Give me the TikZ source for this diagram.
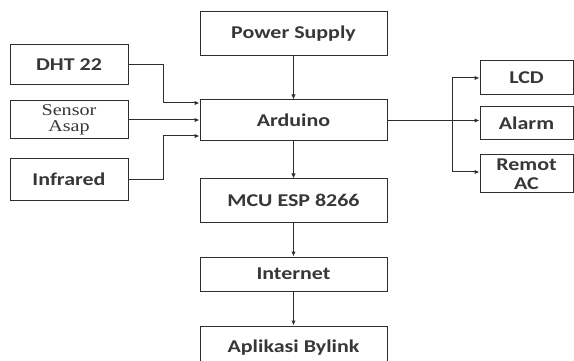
\documentclass[tikz,border=0pt]{standalone}
\usepackage{fontspec}
\usepackage{tikz}
\usepackage{xcolor}
\usetikzlibrary{arrows.meta,positioning,calc}
\setmainfont{Carlito}[FakeStretch=1.22]
\newfontfamily\sensorfont{Liberation Serif}[FakeStretch=1.22]
\definecolor{blkLine}{RGB}{45,45,45}
\definecolor{blkText}{RGB}{55,55,55}

\begin{document}
\begin{tikzpicture}[
    x=1pt,y=1pt,
    node distance=40pt,
    blok/.style={draw=blkLine,line width=1pt,inner sep=0pt,align=center,text=blkText,
      font=\fontsize{18}{18.5}\selectfont\bfseries},
    midblok/.style={blok,minimum width=187pt},
    leftblok/.style={blok,minimum width=118pt},
    rightblok/.style={blok,minimum width=93pt},
    arrow/.style={-{Latex[length=5pt,width=4.5pt]},line width=1pt,blkLine}
  ]
    \useasboundingbox (0,0) rectangle (574,-361);
    % tengah
    \node[midblok,minimum height=44pt] (pwr) at (293.5,-34) {Power Supply};
    \node[midblok,minimum height=41pt,below=43pt of pwr] (ard) {Arduino};
    \node[midblok,minimum height=43pt,below=37pt of ard] (mcu) {MCU ESP 8266};
    \node[midblok,minimum height=34pt,below=34pt of mcu] (net) {Internet};
    \node[midblok,minimum height=44pt,below=34pt of net] (app) {Aplikasi Bylink};
    % input
    \node[leftblok,minimum height=40pt] (dht) at (69,-65) {DHT 22};
    \node[leftblok,minimum height=38pt,font=\sensorfont\fontsize{16.5}{15.5}\selectfont] (sen) at (69,-120) {Sensor\\Asap};
    \node[leftblok,minimum height=41pt] (ir) at (69,-179.5) {Infrared};
    % output
    \node[rightblok,minimum height=34pt] (lcd) at (526.5,-78) {LCD};
    \node[rightblok,minimum height=33pt] (alarm) at (526.5,-123.5) {Alarm};
    \node[rightblok,minimum height=38pt] (rac) at (526.5,-174) {Remot\\AC};
    \coordinate (jl) at (163,0);
    \coordinate (jr) at (452,0);
    \draw[arrow] (pwr) -- (ard);
    \draw[arrow] (ard) -- (mcu);
    \draw[arrow] (mcu) -- (net);
    \draw[arrow] (net) -- (app);
    \draw[arrow] (dht.east) -- (dht.east -| jl) |- ([yshift=-3.5pt]ard.north west);
    \draw[arrow] (sen.east) -- (sen.east -| ard.west);
    \draw[arrow] (ir.east) -- (ir.east -| jl) |- ([yshift=5.5pt]ard.south west);
    \draw[arrow] (ard.east) -- (ard.east -| alarm.west);
    \draw[arrow] (ard.east -| jr) |- (lcd.west);
    \draw[arrow] (ard.east -| jr) |- ([yshift=2pt]rac.west);
\end{tikzpicture}
\end{document}
